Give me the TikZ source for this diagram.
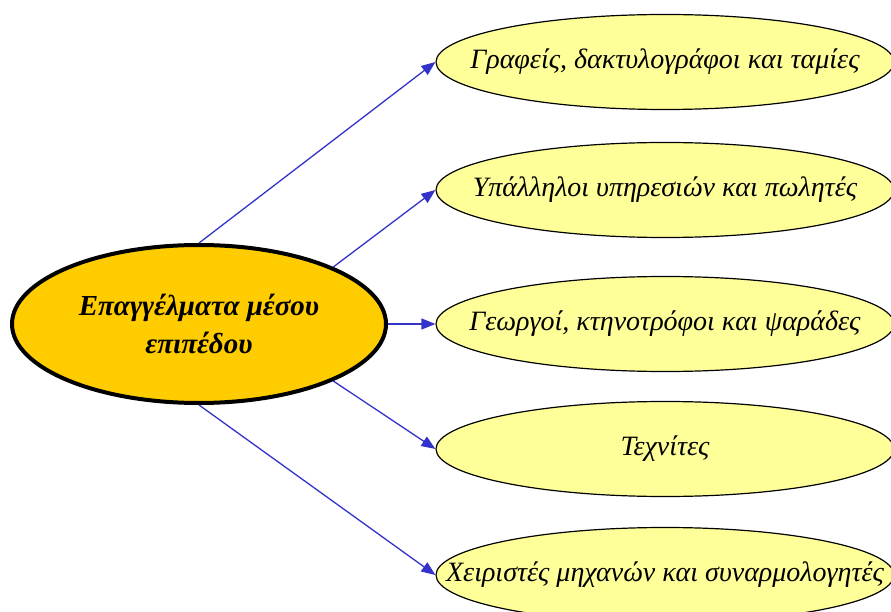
\documentclass[tikz,border=0pt]{standalone}
\usepackage{fontspec}
\setmainfont{Liberation Serif}
\usetikzlibrary{shapes.geometric,arrows.meta}
\definecolor{hubgold}{HTML}{FFCC00}
\definecolor{paleyellow}{HTML}{FFFF99}
\definecolor{arrowblue}{HTML}{3333CC}
\newcommand{\nowidth}[1]{\makebox[0pt]{#1}}
\begin{document}
\begin{tikzpicture}[x=1pt,y=-1pt,
 hub/.style={ellipse, draw=black, line width=4pt, fill=hubgold, minimum width=374pt, minimum height=158pt, inner sep=0pt, align=center, font=\fontsize{29}{38}\selectfont\bfseries\itshape},
 leaf/.style={ellipse, draw=black, line width=1.2pt, fill=paleyellow, minimum width=458pt, minimum height=95pt, inner sep=0pt, font=\fontsize{28}{32}\selectfont\itshape},
 link/.style={draw=arrowblue, line width=1.3pt, -{Triangle[length=14pt,width=11pt]}}]
\useasboundingbox (0,0) rectangle (891,612);
\fill[white] (0,0) rectangle (891,612);
\clip (0,0) rectangle (891,612);
\node[hub] (c) at (199,324) {Επαγγέλματα μέσου\\επιπέδου};
\node[leaf] (l1) at (665,62) {\nowidth{Γραφείς, δακτυλογράφοι και ταμίες}};
\node[leaf] (l2) at (665,190) {\nowidth{Υπάλληλοι υπηρεσιών και πωλητές}};
\node[leaf] (l3) at (665,324) {\nowidth{Γεωργοί, κτηνοτρόφοι και ψαράδες}};
\node[leaf] (l4) at (665,449) {\nowidth{Τεχνίτες}};
\node[leaf] (l5) at (665,575) {\nowidth{Χειριστές μηχανών και συναρμολογητές}};
\draw[link] (c.north) -- (l1.west);
\draw[link] (c.23) -- (l2.west);
\draw[link] (c.east) -- (l3.west);
\draw[link] (c.-23) -- (l4.west);
\draw[link] (c.south) -- (l5.west);
\end{tikzpicture}
\end{document}
